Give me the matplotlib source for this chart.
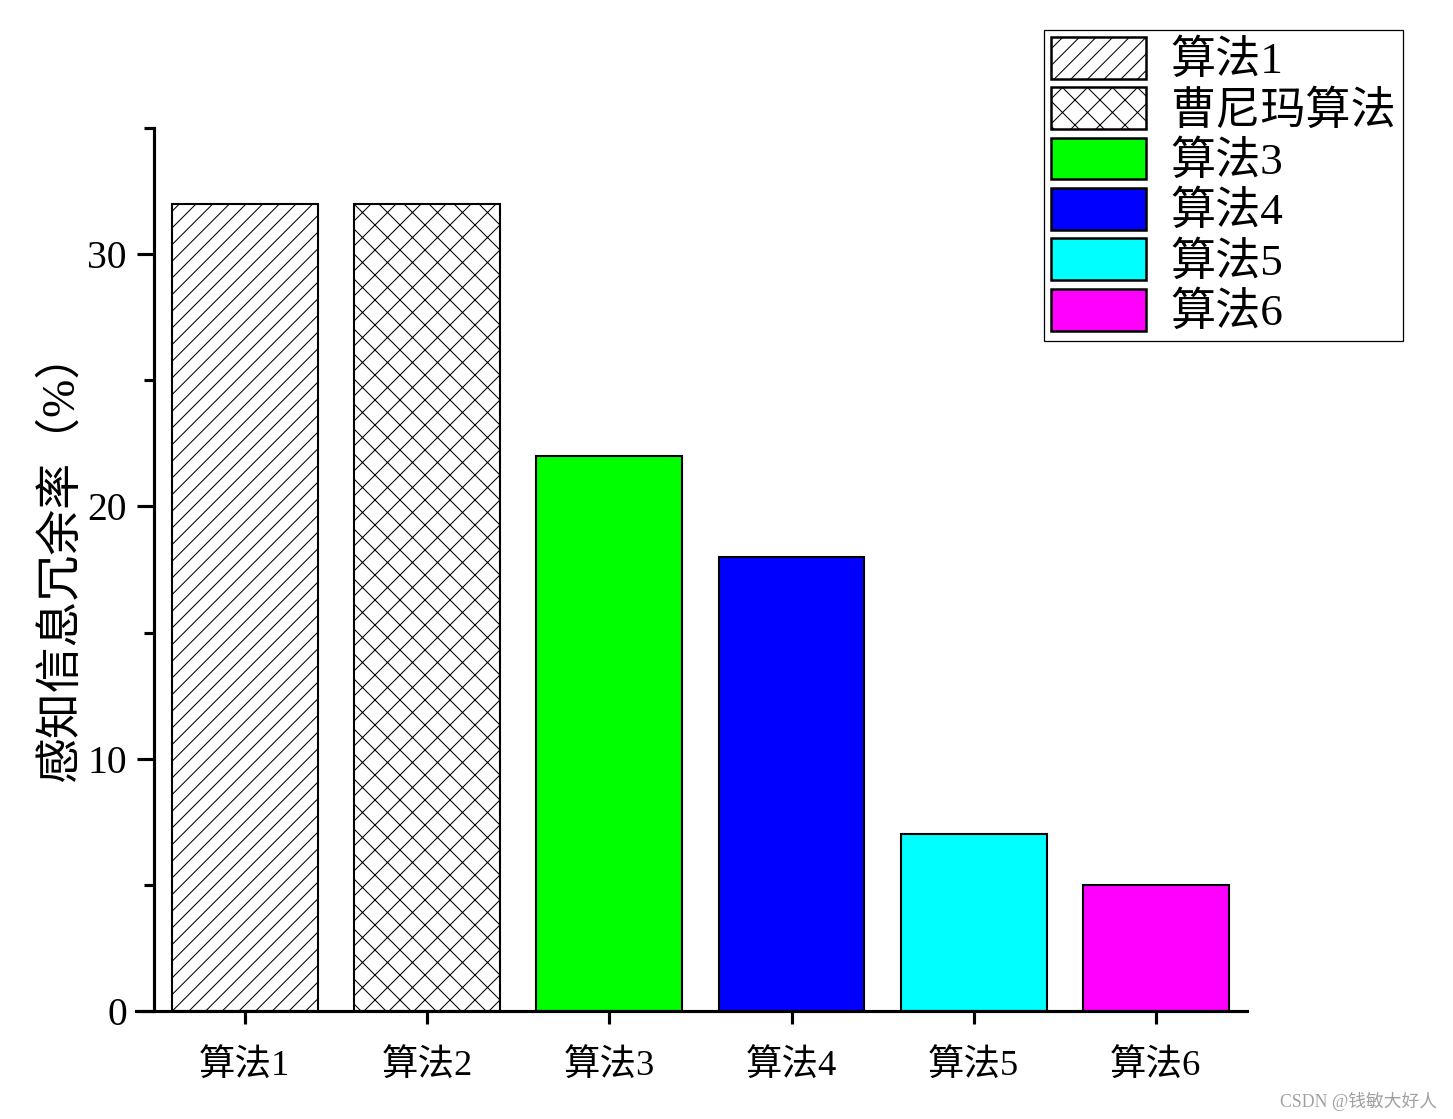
import matplotlib
matplotlib.use("Agg")
import matplotlib.pyplot as plt
from matplotlib.ticker import MultipleLocator

categories = ["算法1", "算法2", "算法3", "算法4", "算法5", "算法6"]
legend_labels = ["算法1", "曹尼玛算法", "算法3", "算法4", "算法5", "算法6"]
values = [32, 32, 22, 18, 7, 5]
fill_colors = ["white", "white", "#00ff00", "#0000ff", "#00ffff", "#ff00ff"]
hatches = ["///", "xx", None, None, None, None]
ylabel = "感知信息冗余率（%）"

FAM = ["Liberation Serif", "Noto Sans CJK SC", "DejaVu Sans"]
plt.rcParams["font.family"] = FAM
plt.rcParams["hatch.linewidth"] = 0.5
plt.rcParams["hatch.color"] = "black"

DPI = 150
W, H = 1453, 1119
fig = plt.figure(figsize=(W / DPI, H / DPI), dpi=DPI)
ax = fig.add_axes([136 / W, 1 - 1011 / H, (1247 - 136) / W, (1011 - 128) / H])

for i, (v, c, h, lab) in enumerate(zip(values, fill_colors, hatches, legend_labels)):
    ax.bar(i, v, width=0.8, color=c, edgecolor="black", linewidth=1.0,
           hatch=h, label=lab, zorder=2)

ax.set_xlim(-0.598, 5.5)
ax.set_ylim(0, 35)
ax.spines["top"].set_visible(False)
ax.spines["right"].set_visible(False)
ax.spines["left"].set_position(("data", -0.5))
for s in ("left", "bottom"):
    ax.spines[s].set_linewidth(1.5)

ax.set_xticks(range(len(categories)))
ax.set_xticklabels(categories, fontsize=17.5)
ax.yaxis.set_major_locator(MultipleLocator(10))
ax.yaxis.set_minor_locator(MultipleLocator(5))
ax.tick_params(axis="x", direction="out", length=6, width=1.5, pad=12)
ax.tick_params(axis="y", which="major", direction="out", length=8, width=1.5,
               pad=5, labelsize=19)
ax.tick_params(axis="y", which="minor", direction="out", length=5, width=1.5)

ax.set_ylabel(ylabel, fontsize=22)
ax.yaxis.set_label_coords(-0.048, 0.515)

leg = ax.legend(loc="upper right", bbox_to_anchor=(1403 / W, 1 - 30 / H),
                bbox_transform=fig.transFigure, borderaxespad=0,
                fontsize=21.7, frameon=True, fancybox=False, framealpha=1,
                edgecolor="black", handlelength=2.1, handleheight=1.05,
                handletextpad=0.55, labelspacing=0.11, borderpad=0.15)
leg.get_frame().set_linewidth(0.6)
for p in leg.get_patches():
    p.set_linewidth(1.2)

fig.text(1437 / W, 1 - 1101 / H, "CSDN @钱敏大好人", fontsize=8.5,
         color="#a0a0a0", ha="right", va="center")

fig.savefig("out.png", dpi=DPI)
